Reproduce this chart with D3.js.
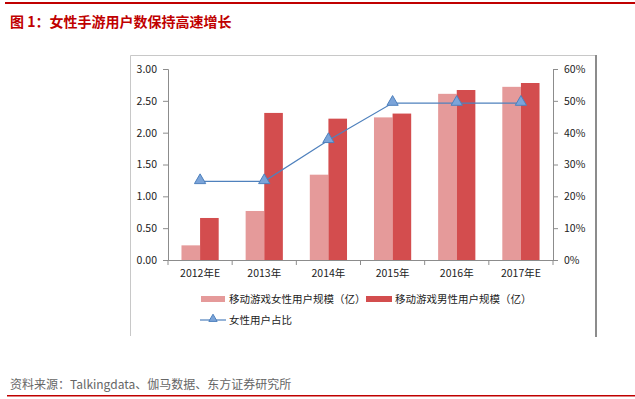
<!DOCTYPE html>
<html>
<head>
<meta charset="utf-8">
<script src="https://cdn.jsdelivr.net/npm/d3@7"></script>
<style>
  body { margin: 0; background: #fff; }
  svg { display: block; font-family: "Noto Sans CJK SC", "DejaVu Sans", sans-serif; }
</style>
</head>
<body>
<svg id="chart" width="635" height="399"></svg>
<script>
// chart data
const categories = ["2012年E", "2013年", "2014年", "2015年", "2016年", "2017年E"];
const femaleUsers = [0.23, 0.77, 1.34, 2.24, 2.61, 2.72];
const maleUsers = [0.66, 2.31, 2.22, 2.30, 2.67, 2.78];
const femaleShare = [0.247, 0.247, 0.376, 0.493, 0.493, 0.493];
const leftTicks = [0, 0.5, 1, 1.5, 2, 2.5, 3];
const rightTicks = [0, 0.1, 0.2, 0.3, 0.4, 0.5, 0.6];
const seriesNames = ["移动游戏女性用户规模（亿）", "移动游戏男性用户规模（亿）", "女性用户占比"];

const svg = d3.select("#chart");
const red = "#c00000";
const femaleColor = "#e59a9a";
const maleColor = "#d34d4e";
const lineColor = "#4f81bd";

// page header
svg.append("rect").attr("x", 5).attr("y", 2).attr("width", 630).attr("height", 2).attr("fill", red);
svg.append("text")
    .attr("x", 10).attr("y", 27)
    .attr("fill", red)
    .style("font-size", "14px")
    .style("font-weight", "bold")
    .text("图 1：女性手游用户数保持高速增长");

// chart frame
svg.append("path")
    .attr("d", "M130.5,336 V55.5 H596")
    .attr("fill", "none").attr("stroke", "#c8c8c8").attr("stroke-width", 1);
svg.append("rect").attr("x", 595).attr("y", 55).attr("width", 2).attr("height", 282).attr("fill", "#8c8c8c");

// scales
const plotLeft = 168, plotRight = 553, plotTop = 69, plotBottom = 260;
const x = d3.scaleBand().domain(categories).range([plotLeft, plotRight]).padding(0);
const yL = d3.scaleLinear().domain([0, 3]).range([plotBottom, plotTop]);
const yR = d3.scaleLinear().domain([0, 0.6]).range([plotBottom, plotTop]);
const barW = x.bandwidth() * 0.29;

// axes
const axisColor = "#8c8c8c";
const gL = svg.append("g").attr("transform", `translate(${plotLeft},0)`)
    .call(d3.axisLeft(yL).tickValues(leftTicks).tickFormat(d3.format(".2f")).tickSize(5).tickPadding(6));
const gR = svg.append("g").attr("transform", `translate(${plotRight},0)`)
    .call(d3.axisRight(yR).tickValues(rightTicks).tickFormat(d3.format(".0%")).tickSize(5).tickPadding(6));
const gX = svg.append("g").attr("transform", `translate(0,${plotBottom})`)
    .call(d3.axisBottom(x).tickSize(0).tickPadding(10));
// category separators on x axis
gX.selectAll(".sep")
    .data(d3.range(categories.length + 1))
    .enter().append("line")
    .attr("x1", i => plotLeft + i * x.step()).attr("x2", i => plotLeft + i * x.step())
    .attr("y1", 0).attr("y2", 5)
    .attr("stroke", axisColor);

[gL, gR, gX].forEach(g => {
    g.select(".domain").attr("stroke", axisColor);
    g.selectAll(".tick line").attr("stroke", axisColor);
    g.selectAll("text").attr("fill", "#222").style("font-size", "10.5px")
        .style("font-family", "\"Noto Sans CJK SC\", \"DejaVu Sans\", sans-serif");
});
gL.select(".domain").attr("d", `M-5,${plotTop}.5H0.5V${plotBottom}.5H-5`);
gR.select(".domain").attr("d", `M5,${plotTop}.5H0.5V${plotBottom}.5H5`);

// bars
const cx = d => x(d) + x.bandwidth() / 2;
svg.selectAll(".female")
    .data(categories)
    .enter().append("rect")
    .attr("x", d => cx(d) - barW)
    .attr("y", (d, i) => yL(femaleUsers[i]))
    .attr("width", barW)
    .attr("height", (d, i) => plotBottom - yL(femaleUsers[i]))
    .attr("fill", femaleColor);
svg.selectAll(".male")
    .data(categories)
    .enter().append("rect")
    .attr("x", d => cx(d))
    .attr("y", (d, i) => yL(maleUsers[i]))
    .attr("width", barW)
    .attr("height", (d, i) => plotBottom - yL(maleUsers[i]))
    .attr("fill", maleColor);

// share line
const line = d3.line().x((d, i) => cx(categories[i])).y(d => yR(d));
svg.append("path")
    .datum(femaleShare)
    .attr("d", line)
    .attr("fill", "none")
    .attr("stroke", lineColor)
    .attr("stroke-width", 1.2);

const tri = d3.symbol().type(d3.symbolTriangle).size(55);
svg.selectAll(".marker")
    .data(femaleShare)
    .enter().append("path")
    .attr("d", tri)
    .attr("transform", (d, i) => `translate(${cx(categories[i])},${yR(d) - 1})`)
    .attr("fill", "#7ba4d9")
    .attr("stroke", lineColor)
    .attr("stroke-width", 1);

// legend
const lg = svg.append("g").style("font-size", "10.5px").attr("fill", "#222");
lg.append("rect").attr("x", 201).attr("y", 296).attr("width", 24).attr("height", 6).attr("fill", femaleColor);
lg.append("text").attr("x", 229).attr("y", 303).text(seriesNames[0]);
lg.append("rect").attr("x", 366).attr("y", 296).attr("width", 26).attr("height", 6).attr("fill", maleColor);
lg.append("text").attr("x", 395).attr("y", 303).text(seriesNames[1]);
lg.append("line").attr("x1", 200).attr("x2", 226).attr("y1", 320).attr("y2", 320)
    .attr("stroke", lineColor).attr("stroke-width", 1.2);
lg.append("path").attr("d", d3.symbol().type(d3.symbolTriangle).size(30))
    .attr("transform", "translate(213,319)")
    .attr("fill", "#7ba4d9").attr("stroke", lineColor);
lg.append("text").attr("x", 229).attr("y", 324).text(seriesNames[2]);

// source footer
svg.append("text")
    .attr("x", 10).attr("y", 389)
    .attr("fill", "#666")
    .style("font-size", "12px")
    .text("资料来源：Talkingdata、伽马数据、东方证券研究所");
svg.append("rect").attr("x", 7).attr("y", 395).attr("width", 628).attr("height", 1.5).attr("fill", red);
</script>
</body>
</html>
